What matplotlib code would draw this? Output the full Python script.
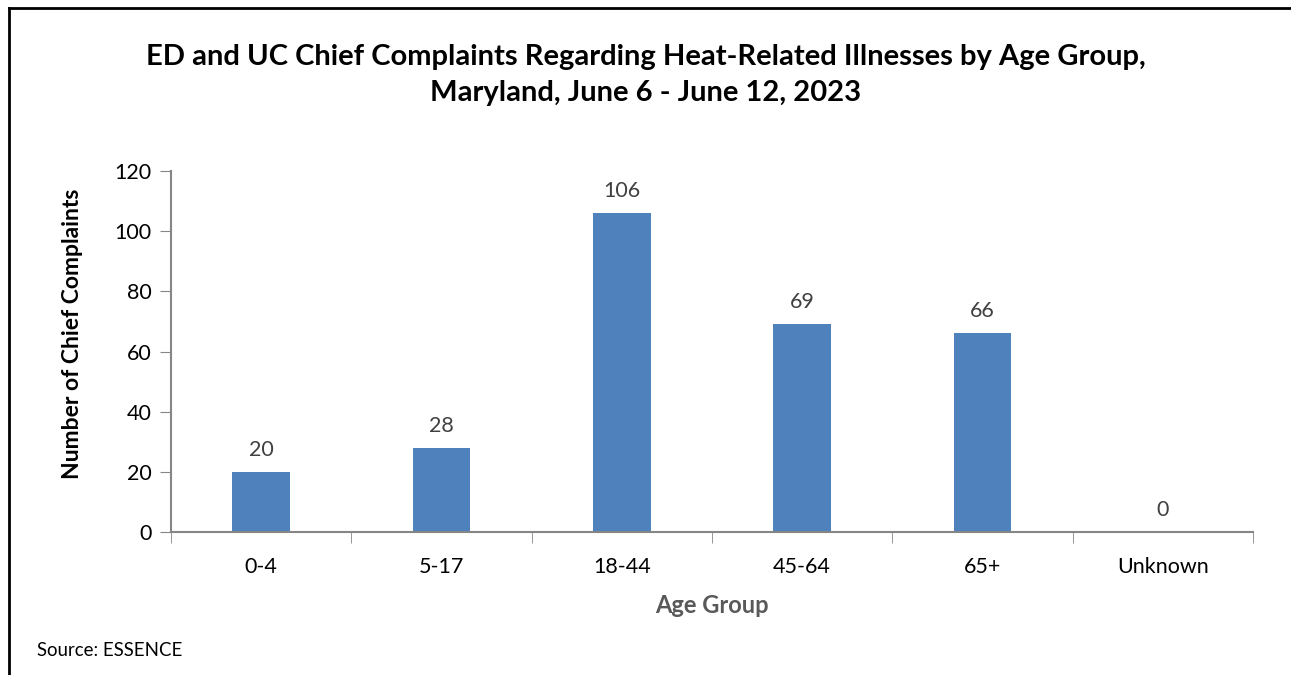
import matplotlib.pyplot as plt
from matplotlib.lines import Line2D

age_groups = ['0-4', '5-17', '18-44', '45-64', '65+', 'Unknown']
complaints = [20, 28, 106, 69, 66, 0]

plt.rcParams['font.family'] = ['Lato', 'DejaVu Sans']

fig = plt.figure(figsize=(12.91, 6.75), dpi=100)
ax = fig.add_axes([171 / 1291, 1 - 532 / 675, (1253 - 171) / 1291, (532 - 171) / 675])

x = list(range(len(age_groups)))
bars = ax.bar(x, complaints, width=0.32, color='#4F81BD', zorder=2)
for xi, v in zip(x, complaints):
    ax.text(xi, v + 4, str(v), ha='center', va='bottom', fontsize=15.5, color='#404040')

ax.set_xlim(-0.5, len(age_groups) - 0.5)
ax.set_ylim(0, 120)
ax.set_yticks(range(0, 121, 20))
ax.tick_params(axis='y', direction='out', length=8, color='#868686', labelsize=15.5, pad=6, labelcolor='black')
ax.set_xticks(x)
ax.set_xticklabels(age_groups)
ax.tick_params(axis='x', length=0, labelsize=15.5, pad=18, labelcolor='black')
# category boundary ticks
ax.set_xticks([i - 0.5 for i in range(len(age_groups) + 1)], minor=True)
ax.tick_params(axis='x', which='minor', direction='out', length=8, color='#868686')

for s in ['top', 'right']:
    ax.spines[s].set_visible(False)
for s in ['left', 'bottom']:
    ax.spines[s].set_color('#868686')
    ax.spines[s].set_linewidth(1.5)

ax.set_ylabel('Number of Chief Complaints', fontsize=16.5, fontweight='bold', va='center')
ax.yaxis.set_label_coords(-0.0906, 0.548)
ax.set_xlabel('Age Group', fontsize=17, fontweight='bold', color='#595959', labelpad=12)

fig.text(0.5, 1 - 75 / 675, 'ED and UC Chief Complaints Regarding Heat-Related Illnesses by Age Group,\nMaryland, June 6 - June 12, 2023',
         ha='center', va='center', fontsize=21, fontweight='bold', linespacing=1.5)
fig.text(37 / 1291, 1 - 651 / 675, 'Source: ESSENCE', ha='left', va='center', fontsize=13.4)

# frame around the chart
fig.add_artist(Line2D([9 / 1291, 9 / 1291], [0, 1 - 8 / 675], color='black', linewidth=2, transform=fig.transFigure))
fig.add_artist(Line2D([9 / 1291, 1], [1 - 8 / 675, 1 - 8 / 675], color='black', linewidth=2, transform=fig.transFigure))

fig.savefig('out.png', dpi=100)
